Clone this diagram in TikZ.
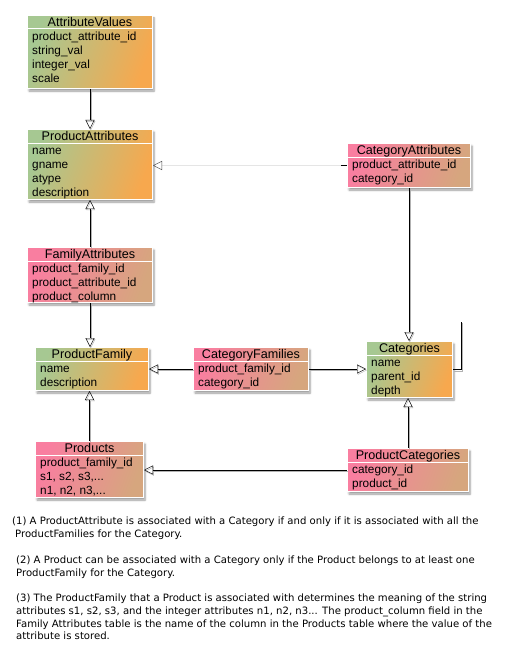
\documentclass[tikz,border=0pt]{standalone}
\usepackage{fontspec}
\setmainfont{Liberation Sans}
\newfontfamily\notefont{DejaVu Sans}
\usetikzlibrary{arrows.meta,shadows.blur}

\definecolor{boxgreen}{RGB}{166,200,146}
\definecolor{boxorange}{RGB}{247,168,78}
\definecolor{boxpink}{RGB}{249,126,160}
\definecolor{boxtan}{RGB}{214,166,126}

\tikzset{
  dbtable/.style={draw=white, line width=1pt, anchor=north west, inner sep=0pt,
    blur shadow={shadow xshift=1.5pt, shadow yshift=-2.5pt, shadow blur steps=6}},
  greentable/.style={dbtable, left color=boxgreen, right color=boxorange, shading angle=70},
  pinktable/.style={dbtable, left color=boxpink, right color=boxtan, shading angle=70},
  title/.style={anchor=base, inner sep=0pt, font=\fontsize{12.6}{14}\selectfont},
  rows/.style={anchor=north west, inner sep=0pt, align=left, font=\fontsize{11.8}{14}\selectfont},
  headline/.style={white, line width=1pt},
  link/.style={thin, -{Triangle[open, width=9pt, length=9pt]},
    preaction={draw=black!30, transform canvas={xshift=0.8pt, yshift=-1.2pt}}},
  note/.style={anchor=north west, inner sep=0pt, align=left, font=\notefont\fontsize{10.1}{12.6}\selectfont}
}

\begin{document}
\begin{tikzpicture}[x=1pt, y=-1pt]
    \useasboundingbox (0,0) rectangle (518,658);

    %the tables
    \node[greentable, minimum width=125pt, minimum height=73pt] (av) at (27,15) {};
    \node[greentable, minimum width=125pt, minimum height=70pt] (pa) at (27,129) {};
    \node[pinktable, minimum width=125pt, minimum height=55pt] (fa) at (27,247) {};
    \node[greentable, minimum width=113pt, minimum height=43pt] (pf) at (35,347) {};
    \node[pinktable, minimum width=115pt, minimum height=43pt] (cf) at (193,347) {};
    \node[pinktable, minimum width=123pt, minimum height=44pt] (ca) at (347,143) {};
    \node[greentable, minimum width=86pt, minimum height=56pt] (cat) at (366,341) {};
    \node[pinktable, minimum width=108pt, minimum height=56pt] (pr) at (35,441) {};
    \node[pinktable, minimum width=121pt, minimum height=43pt] (pc) at (347,448) {};

    %header lines
    \draw[headline] ([yshift=-14pt]av.north west) -- ([yshift=-14pt]av.north east);
    \draw[headline] ([yshift=-14pt]pa.north west) -- ([yshift=-14pt]pa.north east);
    \draw[headline] ([yshift=-14pt]fa.north west) -- ([yshift=-14pt]fa.north east);
    \draw[headline] ([yshift=-14pt]pf.north west) -- ([yshift=-14pt]pf.north east);
    \draw[headline] ([yshift=-14pt]cf.north west) -- ([yshift=-14pt]cf.north east);
    \draw[headline] ([yshift=-14pt]ca.north west) -- ([yshift=-14pt]ca.north east);
    \draw[headline] ([yshift=-14pt]cat.north west) -- ([yshift=-14pt]cat.north east);
    \draw[headline] ([yshift=-14pt]pr.north west) -- ([yshift=-14pt]pr.north east);
    \draw[headline] ([yshift=-14pt]pc.north west) -- ([yshift=-14pt]pc.north east);

    %titles
    \node[title] (avtitle) at ([yshift=-11.5pt]av.north) {AttributeValues};
    \node[title] (patitle) at ([yshift=-11.5pt]pa.north) {ProductAttributes};
    \node[title] (fatitle) at ([yshift=-11.5pt]fa.north) {FamilyAttributes};
    \node[title] (pftitle) at ([yshift=-11.5pt]pf.north) {ProductFamily};
    \node[title] (cftitle) at ([yshift=-11.5pt]cf.north) {CategoryFamilies};
    \node[title] (catitle) at ([yshift=-11.5pt]ca.north) {CategoryAttributes};
    \node[title] (cattitle) at ([yshift=-11.5pt]cat.north) {Categories};
    \node[title] (prtitle) at ([yshift=-11.5pt]pr.north) {Products};
    \node[title] (pctitle) at ([yshift=-11.5pt]pc.north) {ProductCategories};

    %fields
    \node[rows] (avrows) at ([xshift=5pt, yshift=-15.4pt]av.north west)
        {\strut product\_attribute\_id\\string\_val\\integer\_val\\scale};
    \node[rows] (parows) at ([xshift=5pt, yshift=-15.4pt]pa.north west)
        {\strut name\\gname\\atype\\description};
    \node[rows] (farows) at ([xshift=5pt, yshift=-15.4pt]fa.north west)
        {\strut product\_family\_id\\product\_attribute\_id\\product\_column};
    \node[rows] (pfrows) at ([xshift=5pt, yshift=-15.4pt]pf.north west)
        {\strut name\\description};
    \node[rows] (cfrows) at ([xshift=5pt, yshift=-15.4pt]cf.north west)
        {\strut product\_family\_id\\category\_id};
    \node[rows] (carows) at ([xshift=5pt, yshift=-15.4pt]ca.north west)
        {\strut product\_attribute\_id\\category\_id};
    \node[rows] (catrows) at ([xshift=5pt, yshift=-15.4pt]cat.north west)
        {\strut name\\parent\_id\\depth};
    \node[rows] (prrows) at ([xshift=5pt, yshift=-15.4pt]pr.north west)
        {\strut product\_family\_id\\s1, s2, s3,...\\n1, n2, n3,...};
    \node[rows] (pcrows) at ([xshift=5pt, yshift=-15.4pt]pc.north west)
        {\strut category\_id\\product\_id};

    %connectors
    \draw[link] (av.south) -- (pa.north);
    \draw[link] (fa.north) -- (pa.south);
    \draw[link] (fa.south) -- (fa.south |- pf.north);
    \draw[link] (pr.north) -- (pr.north |- pf.south);
    \draw[link] (cf.west) -- (cf.west -| pf.east);
    \draw[link] (cf.east) -- (cf.east -| cat.west);
    \draw[link] (ca.south) -- (ca.south |- cat.north);
    \draw[link] (pc.north) -- (pc.north |- cat.south);
    \draw[link] (pc.west) -- (pc.west -| pr.east);
    \draw[thin, black!10, -{Triangle[open, width=9pt, length=9pt, black!70]}] (ca.west) -- (ca.west -| pa.east);
    \draw[thin] (ca.west) -- ([xshift=-6pt]ca.west);

    %self reference of Categories
    \coordinate (loopend) at (461,322);
    \draw[thin, preaction={draw=black!30, transform canvas={xshift=0.8pt, yshift=-1.2pt}}]
        (cat.east) -- (cat.east -| loopend) -- (loopend);

    %notes
    \node[note] (note1) at (12,517) {(1) A ProductAttribute is associated with a Category if and only if it is associated with all the\\
        \hspace{3pt}ProductFamilies for the Category.};
    \node[note] (note2) at (16,556) {(2) A Product can be associated with a Category only if the Product belongs to at least one\\
        ProductFamily for the Category.};
    \node[note] (note3) at (16,594) {(3) The ProductFamily that a Product is associated with determines the meaning of the string\\
        attributes s1, s2, s3, and the integer attributes n1, n2, n3... The product\_column field in the\\
        Family Attributes table is the name of the column in the Products table where the value of the\\
        attribute is stored.};

\end{tikzpicture}
\end{document}
